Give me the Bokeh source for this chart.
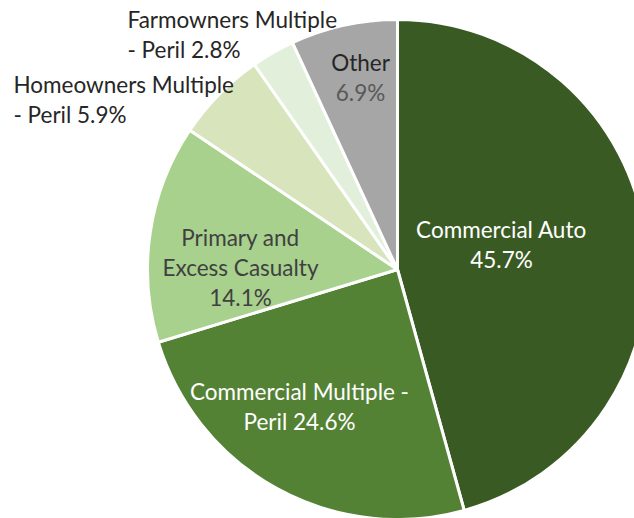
import math
from bokeh.plotting import figure
from bokeh.models import Range1d, ColumnDataSource
from bokeh.embed import file_html
from bokeh.resources import INLINE
from bokeh.core.properties import value

# ---- data ----
categories = ["Commercial Auto", "Commercial Multiple - Peril", "Primary and Excess Casualty",
              "Homeowners Multiple - Peril", "Farmowners Multiple - Peril", "Other"]
shares = [45.7, 24.6, 14.1, 5.9, 2.8, 6.9]
colors = ["#3A5A24", "#548235", "#A9D18E", "#D8E4BC", "#E2EFDA", "#A6A6A6"]

# label line breaks (text + share)
label_lines = [
    ["Commercial Auto", "{:.1f}%"],
    ["Commercial Multiple -", "Peril {:.1f}%"],
    ["Primary and", "Excess Casualty", "{:.1f}%"],
    ["Homeowners Multiple", "- Peril {:.1f}%"],
    ["Farmowners Multiple", "- Peril {:.1f}%"],
    ["Other", "{:.1f}%"],
]

# ---- layout / style ----
W, H = 634, 518
CX, CY = 397, 249          # pie centre in plot pixels (y up)
R = 250
FONT = "Lato"
FS = "22.5px"
LINE_H = 30
# per-label: (dx from centre, dy of first line from centre (down), align, colours per line)
label_style = [
    (104, -40, "center", ["#FFFFFF", "#FFFFFF"]),
    (-98, 122, "center", ["#FFFFFF", "#FFFFFF"]),
    (-157, -32, "center", ["#404040", "#404040", "#404040"]),
    (-384, -185, "left", ["#262626", "#262626"]),
    (-270, -250, "left", ["#262626", "#262626"]),
    (-37, -207, "center", ["#262626", "#595959"]),
]

p = figure(width=W, height=H, output_backend="svg", toolbar_location=None,
           x_range=Range1d(0, W), y_range=Range1d(0, H), min_border=0)
p.axis.visible = False
p.grid.visible = False
p.outline_line_color = None
p.background_fill_color = "white"

total = sum(shares)
starts, ends = [], []
cum = 0.0
for s in shares:
    starts.append(math.pi / 2 - cum / total * 2 * math.pi)
    cum += s
    ends.append(math.pi / 2 - cum / total * 2 * math.pi)

src = ColumnDataSource(dict(x=[CX] * len(shares), y=[CY] * len(shares),
                            start=starts, end=ends, color=colors, cat=categories))
p.wedge(x="x", y="y", radius=R, start_angle="start", end_angle="end", direction="clock",
        fill_color="color", line_color="white", line_width=3, source=src)

tx, ty, tt, tc, ta = [], [], [], [], []
for lines, share, (dx, dy, align, cols) in zip(label_lines, shares, label_style):
    for i, ln in enumerate(lines):
        tx.append(CX + dx)
        ty.append(CY - (dy + i * LINE_H))
        tt.append(ln.format(share) if "{" in ln else ln)
        tc.append(cols[i])
        ta.append(align)
tsrc = ColumnDataSource(dict(x=tx, y=ty, text=tt, color=tc, align=ta))
p.text(x="x", y="y", text="text", text_color="color", text_align="align",
       text_baseline="middle", text_font=value(FONT), text_font_size=FS, source=tsrc)

open("out.html", "w").write(file_html(p, INLINE))
